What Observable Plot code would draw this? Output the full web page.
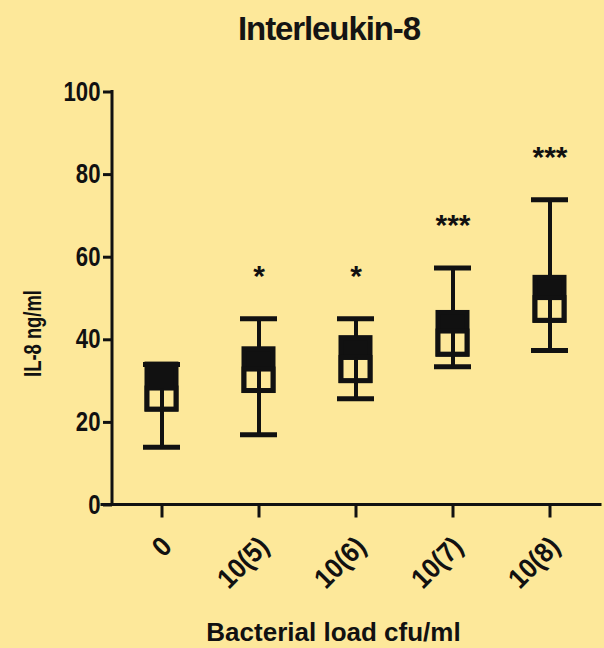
<!DOCTYPE html>
<html>
<head>
<meta charset="utf-8">
<script src="https://cdn.jsdelivr.net/npm/d3@7"></script>
<script src="https://cdn.jsdelivr.net/npm/@observablehq/plot@0.6"></script>
<style>
  html, body { margin: 0; padding: 0; background: #FDE89A; }
  #wrap { width: 604px; height: 648px; overflow: hidden; background: #FDE89A; }
  #title {
    box-sizing: border-box; width: 604px; height: 60px; padding: 12px 0 0 54px;
    text-align: center; font-family: "Liberation Sans", Arial, sans-serif; font-weight: bold;
    font-size: 33px; line-height: 33px; letter-spacing: -1.1px; color: #141414;
  }
</style>
</head>
<body>
<div id="wrap"><div id="title"></div><div id="chart"></div></div>
<script>
const titleText = "Interleukin-8";
const yLabel = "IL-8 ng/ml";
const xLabel = "Bacterial load cfu/ml";
const categories = ["0", "10(5)", "10(6)", "10(7)", "10(8)"];
const mins    = [14.0, 17.0, 25.7, 33.5, 37.4];
const q1s     = [23.1, 27.6, 30.0, 36.4, 44.6];
const medians = [28.2, 32.8, 35.6, 42.0, 50.1];
const q3s     = [34.0, 37.7, 40.4, 46.5, 55.0];
const maxs    = [34.0, 45.1, 45.1, 57.4, 73.9];
const stars   = ["", "*", "*", "***", "***"];
const yTicks  = [0, 20, 40, 60, 80, 100];

const bg = "#FDE89A";
const ink = "#111";
const data = categories.map((c, i) => ({
  cat: c, min: mins[i], q1: q1s[i], med: medians[i], q3: q3s[i], max: maxs[i], star: stars[i]
}));

document.getElementById("title").textContent = titleText;

const axisLines = (index, scales, values, dim) => {
  const g = d3.create("svg:g").attr("stroke", ink).attr("stroke-width", 3).attr("stroke-linecap", "square");
  const x0 = dim.marginLeft;
  const y0 = scales.y(0);
  g.append("line").attr("x1", x0).attr("x2", x0).attr("y1", scales.y(100)).attr("y2", y0);
  g.append("line").attr("x1", x0 - 10).attr("x2", dim.width - 4).attr("y1", y0).attr("y2", y0);
  return g.node();
};

const chart = Plot.plot({
  width: 604,
  height: 588,
  marginLeft: 112,
  marginRight: 5,
  marginTop: 31.5,
  marginBottom: 143.5,
  style: { background: "transparent", fontFamily: "Liberation Sans, Arial, sans-serif", fontWeight: "bold", color: ink },
  x: { type: "band", domain: categories, paddingInner: 0.62, paddingOuter: 0.3, label: null },
  y: { domain: [0, 100], label: null },
  marks: [
    axisLines,
    Plot.axisY({ ticks: yTicks, tickSize: 9, tickPadding: 3, fontSize: 27, fontWeight: "bold", strokeWidth: 3, label: null }),
    Plot.axisX({ tickSize: 13, tickPadding: 24, tickRotate: -45, fontSize: 28, fontWeight: "bold", strokeWidth: 3, label: null }),
    Plot.ruleX(data, { x: "cat", y1: "min", y2: "max", stroke: ink, strokeWidth: 4 }),
    Plot.barY(data, { x: "cat", y1: "q1", y2: "q3", fill: ink, stroke: ink, strokeWidth: 5, insetLeft: 4, insetRight: 4 }),
    Plot.barY(data, { x: "cat", y1: "q1", y2: "med", fill: bg, stroke: ink, strokeWidth: 5, insetLeft: 4, insetRight: 4 }),
    Plot.ruleX(data, { x: "cat", y1: "q1", y2: "med", stroke: ink, strokeWidth: 4 }),
    Plot.tickY(data, { x: "cat", y: "min", stroke: ink, strokeWidth: 5 }),
    Plot.tickY(data, { x: "cat", y: "max", stroke: ink, strokeWidth: 5 }),
    Plot.text(data, { x: "cat", y: "max", text: "star", dy: -33, lineAnchor: "bottom", fontSize: 30, fontWeight: "bold", fill: ink }),
    Plot.text([yLabel], { text: d => d, frameAnchor: "left", textAnchor: "middle", rotate: -90, fontSize: 23, fontWeight: "bold", fill: ink }),
    Plot.text([xLabel], { text: d => d, frameAnchor: "bottom", textAnchor: "middle", dx: -22.5, dy: 135.5, lineAnchor: "bottom", fontSize: 26, fontWeight: "bold", fill: ink })
  ]
});
document.getElementById("chart").appendChild(chart);

const root = d3.select(chart);
function condense(sel, factor) {
  sel.each(function () {
    const len = this.getComputedTextLength();
    if (len > 0) d3.select(this).attr("textLength", len * factor).attr("lengthAdjust", "spacingAndGlyphs");
  });
}
function shift(g, dx, dy) {
  const t = g.attr("transform") || "";
  g.attr("transform", `translate(${dx},${dy}) ${t}`);
}
condense(root.selectAll('[aria-label="y-axis tick label"] text'), 0.82);
condense(root.selectAll('[aria-label="x-axis tick label"] text'), 0.9);
shift(root.select('[aria-label="x-axis tick label"]'), 5, 0);
const yl = root.selectAll("text").filter(function () { return this.textContent === yLabel; });
condense(yl, 0.8);
shift(d3.select(yl.node().parentNode), -79, 35);
</script>
</body>
</html>
